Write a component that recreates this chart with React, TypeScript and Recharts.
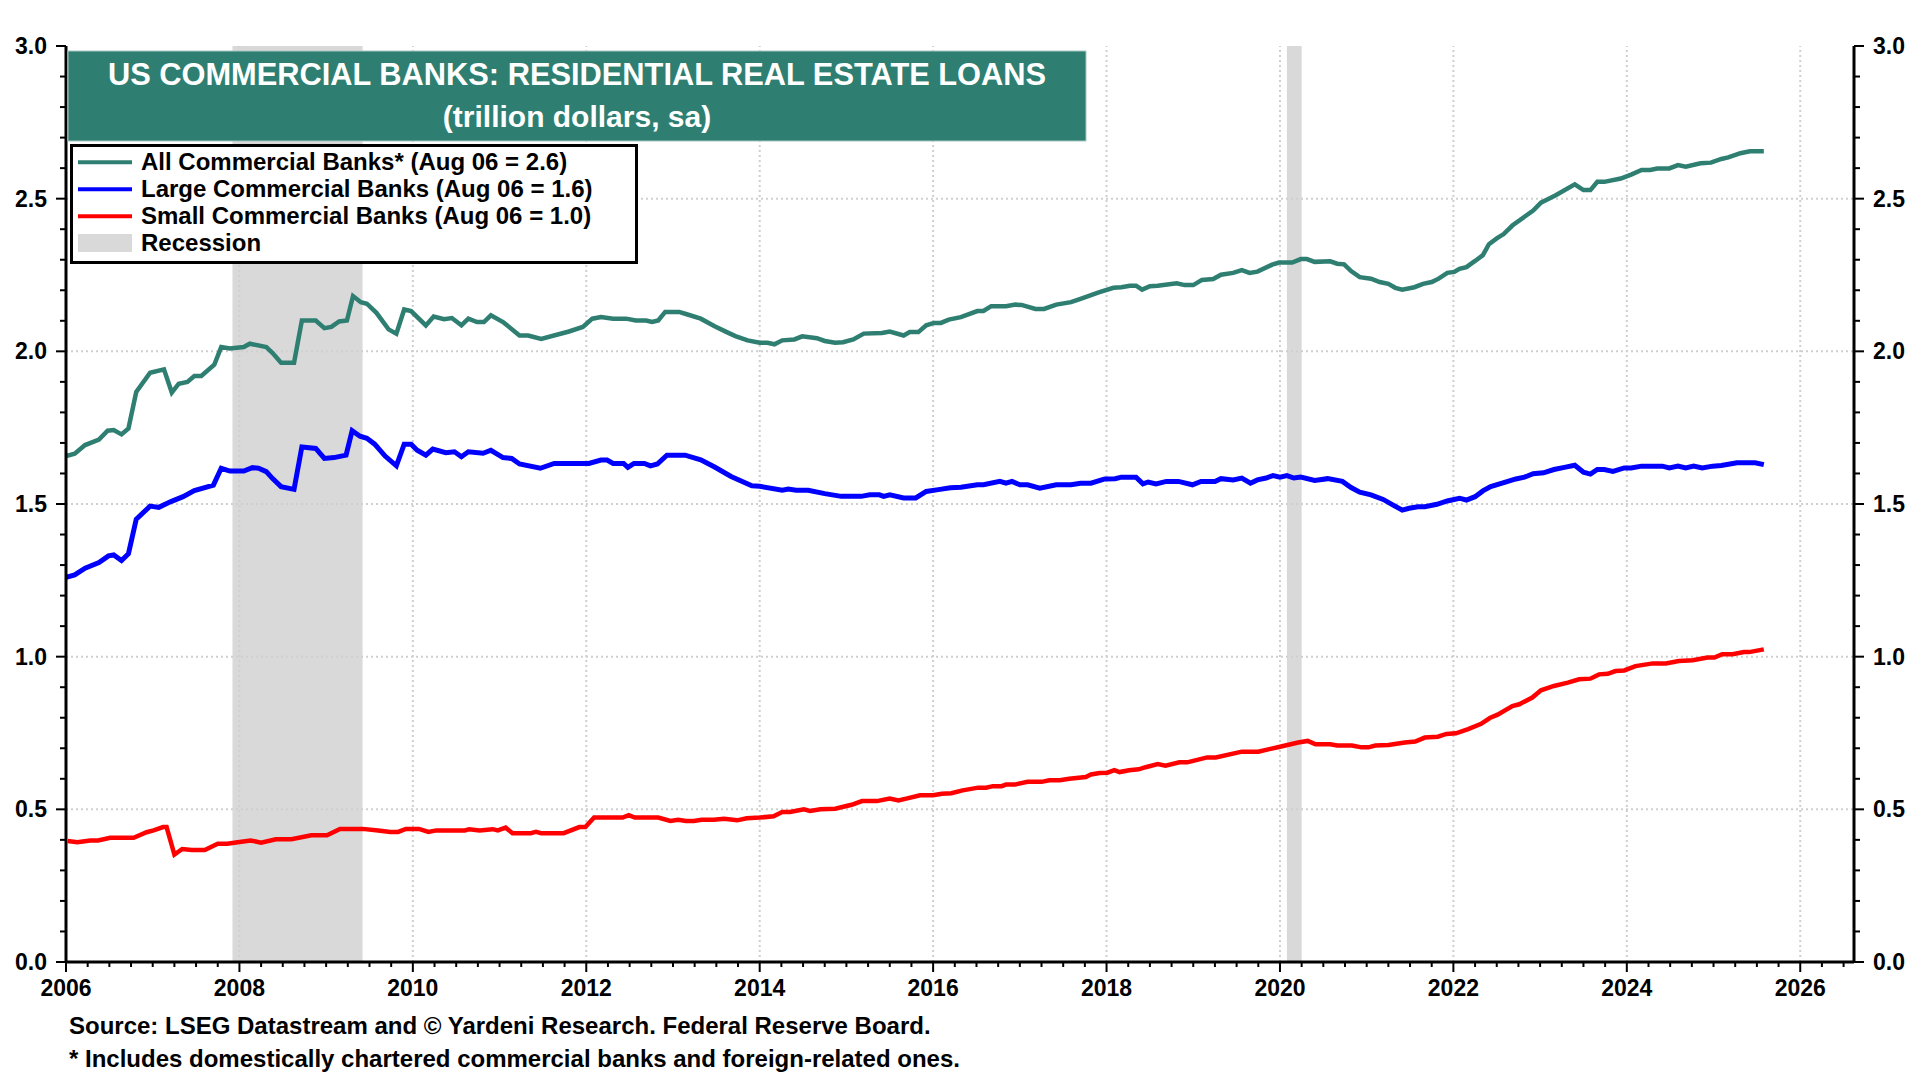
import React from "react";
import {
  ComposedChart,
  Line,
  XAxis,
  YAxis,
  ReferenceArea,
  ReferenceLine,
} from "recharts";

// values: [decimal year, trillion $]
const allBanks: [number, number][] = [
  [2006.0, 1.657], [2006.1, 1.665], [2006.22, 1.693], [2006.38, 1.711], [2006.48, 1.74],
  [2006.55, 1.742], [2006.64, 1.728], [2006.72, 1.747], [2006.81, 1.867], [2006.97, 1.93],
  [2007.13, 1.941], [2007.22, 1.865], [2007.3, 1.894], [2007.4, 1.9], [2007.48, 1.919],
  [2007.56, 1.919], [2007.71, 1.956], [2007.79, 2.014], [2007.89, 2.009], [2008.05, 2.014],
  [2008.12, 2.025], [2008.31, 2.014], [2008.38, 1.995], [2008.48, 1.963], [2008.63, 1.963],
  [2008.72, 2.101], [2008.88, 2.101], [2008.98, 2.076], [2009.06, 2.08], [2009.15, 2.098],
  [2009.24, 2.101], [2009.31, 2.181], [2009.4, 2.161], [2009.47, 2.156], [2009.58, 2.126],
  [2009.72, 2.072], [2009.81, 2.058], [2009.9, 2.137], [2009.98, 2.132], [2010.15, 2.085],
  [2010.24, 2.114], [2010.36, 2.105], [2010.45, 2.109], [2010.56, 2.085], [2010.64, 2.107],
  [2010.74, 2.096], [2010.82, 2.096], [2010.9, 2.118], [2011.04, 2.096], [2011.23, 2.052],
  [2011.33, 2.052], [2011.48, 2.041], [2011.8, 2.065], [2011.96, 2.08], [2012.07, 2.107],
  [2012.17, 2.112], [2012.31, 2.107], [2012.46, 2.107], [2012.57, 2.101], [2012.69, 2.101],
  [2012.76, 2.096], [2012.83, 2.101], [2012.91, 2.129], [2013.07, 2.129], [2013.14, 2.123],
  [2013.32, 2.107], [2013.48, 2.082], [2013.62, 2.063], [2013.72, 2.05], [2013.86, 2.036],
  [2014.0, 2.028], [2014.09, 2.028], [2014.17, 2.023], [2014.26, 2.036], [2014.4, 2.039],
  [2014.49, 2.049], [2014.66, 2.043], [2014.75, 2.034], [2014.87, 2.028], [2014.96, 2.03],
  [2015.08, 2.039], [2015.2, 2.058], [2015.41, 2.06], [2015.5, 2.065], [2015.66, 2.052],
  [2015.73, 2.063], [2015.83, 2.063], [2015.92, 2.085], [2016.01, 2.093], [2016.09, 2.093],
  [2016.18, 2.104], [2016.32, 2.112], [2016.51, 2.132], [2016.58, 2.132], [2016.67, 2.148],
  [2016.84, 2.148], [2016.95, 2.153], [2017.02, 2.152], [2017.18, 2.139], [2017.28, 2.139],
  [2017.42, 2.153], [2017.59, 2.161], [2017.7, 2.172], [2017.91, 2.193], [2018.08, 2.208],
  [2018.17, 2.21], [2018.27, 2.215], [2018.34, 2.215], [2018.41, 2.202], [2018.5, 2.213],
  [2018.59, 2.215], [2018.81, 2.223], [2018.9, 2.217], [2019.0, 2.217], [2019.1, 2.234],
  [2019.23, 2.237], [2019.32, 2.251], [2019.46, 2.257], [2019.56, 2.266], [2019.65, 2.257],
  [2019.74, 2.261], [2019.91, 2.284], [2019.99, 2.291], [2020.14, 2.291], [2020.24, 2.302],
  [2020.31, 2.302], [2020.4, 2.293], [2020.58, 2.295], [2020.66, 2.287], [2020.74, 2.285],
  [2020.82, 2.263], [2020.92, 2.243], [2021.05, 2.238], [2021.15, 2.227], [2021.25, 2.221],
  [2021.33, 2.208], [2021.41, 2.202], [2021.55, 2.21], [2021.65, 2.221], [2021.75, 2.227],
  [2021.83, 2.238], [2021.93, 2.257], [2022.01, 2.26], [2022.07, 2.27], [2022.15, 2.276],
  [2022.25, 2.296], [2022.34, 2.315], [2022.41, 2.351], [2022.5, 2.37], [2022.58, 2.384],
  [2022.68, 2.412], [2022.84, 2.445], [2022.92, 2.461], [2023.01, 2.487], [2023.06, 2.494],
  [2023.18, 2.511], [2023.4, 2.547], [2023.5, 2.528], [2023.58, 2.528], [2023.66, 2.555],
  [2023.74, 2.555], [2023.93, 2.566], [2024.05, 2.579], [2024.17, 2.594], [2024.27, 2.594],
  [2024.35, 2.599], [2024.49, 2.599], [2024.59, 2.61], [2024.68, 2.605], [2024.85, 2.616],
  [2024.97, 2.618], [2025.09, 2.63], [2025.17, 2.635], [2025.31, 2.649], [2025.42, 2.655],
  [2025.58, 2.655],
];

const largeBanks: [number, number][] = [
  [2006.0, 1.26], [2006.1, 1.268], [2006.22, 1.29], [2006.38, 1.308], [2006.49, 1.33],
  [2006.55, 1.333], [2006.64, 1.315], [2006.72, 1.337], [2006.81, 1.45], [2006.97, 1.493],
  [2007.07, 1.489], [2007.21, 1.508], [2007.35, 1.524], [2007.48, 1.544], [2007.7, 1.562],
  [2007.79, 1.617], [2007.89, 1.608], [2008.05, 1.608], [2008.15, 1.619], [2008.22, 1.617],
  [2008.31, 1.606], [2008.38, 1.584], [2008.48, 1.557], [2008.63, 1.548], [2008.72, 1.687],
  [2008.88, 1.682], [2008.98, 1.649], [2009.09, 1.652], [2009.23, 1.66], [2009.3, 1.74],
  [2009.39, 1.722], [2009.47, 1.715], [2009.56, 1.696], [2009.68, 1.657], [2009.81, 1.625],
  [2009.9, 1.696], [2009.98, 1.696], [2010.05, 1.676], [2010.15, 1.66], [2010.23, 1.68],
  [2010.38, 1.668], [2010.48, 1.671], [2010.56, 1.655], [2010.64, 1.671], [2010.81, 1.666],
  [2010.9, 1.676], [2011.04, 1.652], [2011.14, 1.649], [2011.23, 1.631], [2011.47, 1.617],
  [2011.63, 1.633], [2012.03, 1.633], [2012.17, 1.644], [2012.24, 1.644], [2012.31, 1.633],
  [2012.43, 1.633], [2012.48, 1.62], [2012.55, 1.633], [2012.67, 1.633], [2012.74, 1.625],
  [2012.82, 1.631], [2012.93, 1.66], [2013.14, 1.66], [2013.32, 1.645], [2013.48, 1.621],
  [2013.67, 1.59], [2013.91, 1.56], [2014.0, 1.558], [2014.26, 1.545], [2014.33, 1.549],
  [2014.42, 1.545], [2014.56, 1.545], [2014.75, 1.534], [2014.94, 1.525], [2015.17, 1.525],
  [2015.27, 1.53], [2015.38, 1.53], [2015.43, 1.525], [2015.5, 1.53], [2015.66, 1.52],
  [2015.8, 1.52], [2015.92, 1.541], [2016.06, 1.547], [2016.2, 1.553], [2016.32, 1.555],
  [2016.51, 1.563], [2016.58, 1.563], [2016.77, 1.574], [2016.84, 1.568], [2016.91, 1.574],
  [2017.0, 1.563], [2017.09, 1.563], [2017.23, 1.552], [2017.42, 1.563], [2017.59, 1.563],
  [2017.7, 1.568], [2017.82, 1.568], [2017.98, 1.582], [2018.1, 1.583], [2018.17, 1.588],
  [2018.34, 1.588], [2018.42, 1.566], [2018.48, 1.572], [2018.57, 1.566], [2018.69, 1.574],
  [2018.83, 1.574], [2018.99, 1.563], [2019.09, 1.574], [2019.25, 1.574], [2019.32, 1.583],
  [2019.46, 1.579], [2019.56, 1.585], [2019.66, 1.568], [2019.74, 1.579], [2019.84, 1.585],
  [2019.92, 1.593], [2020.0, 1.588], [2020.08, 1.593], [2020.16, 1.585], [2020.24, 1.588],
  [2020.4, 1.577], [2020.55, 1.583], [2020.72, 1.574], [2020.82, 1.554], [2020.92, 1.539],
  [2021.05, 1.53], [2021.19, 1.515], [2021.29, 1.499], [2021.41, 1.48], [2021.49, 1.486],
  [2021.59, 1.491], [2021.67, 1.491], [2021.81, 1.499], [2021.93, 1.51], [2022.07, 1.519],
  [2022.15, 1.513], [2022.25, 1.524], [2022.34, 1.543], [2022.43, 1.557], [2022.6, 1.572],
  [2022.72, 1.582], [2022.82, 1.588], [2022.92, 1.599], [2023.04, 1.602], [2023.16, 1.613],
  [2023.28, 1.62], [2023.4, 1.627], [2023.5, 1.604], [2023.58, 1.598], [2023.66, 1.613],
  [2023.74, 1.613], [2023.84, 1.607], [2023.97, 1.618], [2024.05, 1.618], [2024.17, 1.624],
  [2024.41, 1.624], [2024.49, 1.618], [2024.59, 1.624], [2024.68, 1.618], [2024.77, 1.624],
  [2024.87, 1.618], [2024.99, 1.624], [2025.09, 1.626], [2025.27, 1.635], [2025.48, 1.635],
  [2025.58, 1.629],
];

const smallBanks: [number, number][] = [
  [2006.02, 0.396], [2006.13, 0.392], [2006.28, 0.398], [2006.37, 0.398], [2006.51, 0.407],
  [2006.78, 0.407], [2006.93, 0.425], [2007.01, 0.431], [2007.12, 0.442], [2007.16, 0.442],
  [2007.25, 0.352], [2007.34, 0.37], [2007.45, 0.367], [2007.6, 0.367], [2007.75, 0.387],
  [2007.86, 0.387], [2007.98, 0.392], [2008.13, 0.398], [2008.25, 0.391], [2008.42, 0.402],
  [2008.6, 0.402], [2008.83, 0.415], [2009.01, 0.415], [2009.16, 0.436], [2009.42, 0.436],
  [2009.6, 0.431], [2009.74, 0.426], [2009.83, 0.426], [2009.92, 0.436], [2010.07, 0.436],
  [2010.18, 0.426], [2010.27, 0.431], [2010.6, 0.431], [2010.65, 0.435], [2010.77, 0.431],
  [2010.92, 0.435], [2010.98, 0.431], [2011.07, 0.44], [2011.15, 0.422], [2011.36, 0.422],
  [2011.42, 0.426], [2011.48, 0.422], [2011.74, 0.422], [2011.92, 0.442], [2011.99, 0.442],
  [2012.09, 0.473], [2012.42, 0.473], [2012.49, 0.481], [2012.56, 0.473], [2012.83, 0.473],
  [2012.97, 0.462], [2013.06, 0.466], [2013.15, 0.462], [2013.24, 0.462], [2013.33, 0.466],
  [2013.47, 0.466], [2013.59, 0.469], [2013.74, 0.464], [2013.85, 0.471], [2014.0, 0.473],
  [2014.16, 0.477], [2014.26, 0.491], [2014.35, 0.491], [2014.51, 0.5], [2014.58, 0.495],
  [2014.7, 0.5], [2014.87, 0.502], [2015.06, 0.515], [2015.18, 0.527], [2015.35, 0.527],
  [2015.5, 0.535], [2015.6, 0.529], [2015.69, 0.535], [2015.85, 0.546], [2016.0, 0.546],
  [2016.1, 0.551], [2016.21, 0.553], [2016.34, 0.562], [2016.52, 0.571], [2016.61, 0.571],
  [2016.69, 0.576], [2016.79, 0.576], [2016.84, 0.581], [2016.94, 0.581], [2017.09, 0.59],
  [2017.25, 0.59], [2017.34, 0.595], [2017.46, 0.595], [2017.57, 0.6], [2017.76, 0.606],
  [2017.82, 0.614], [2017.92, 0.619], [2018.01, 0.62], [2018.09, 0.628], [2018.15, 0.622],
  [2018.26, 0.628], [2018.37, 0.631], [2018.45, 0.638], [2018.59, 0.648], [2018.68, 0.643],
  [2018.84, 0.654], [2018.93, 0.654], [2019.16, 0.67], [2019.26, 0.67], [2019.56, 0.689],
  [2019.75, 0.689], [2020.0, 0.705], [2020.21, 0.719], [2020.32, 0.724], [2020.41, 0.713],
  [2020.58, 0.713], [2020.66, 0.709], [2020.83, 0.709], [2020.94, 0.703], [2021.02, 0.703],
  [2021.1, 0.709], [2021.25, 0.711], [2021.44, 0.719], [2021.56, 0.722], [2021.67, 0.735],
  [2021.82, 0.738], [2021.92, 0.747], [2022.03, 0.749], [2022.17, 0.763], [2022.32, 0.78],
  [2022.42, 0.799], [2022.51, 0.81], [2022.68, 0.838], [2022.76, 0.844], [2022.91, 0.866],
  [2023.01, 0.89], [2023.16, 0.904], [2023.32, 0.915], [2023.45, 0.926], [2023.58, 0.928],
  [2023.68, 0.942], [2023.78, 0.944], [2023.87, 0.953], [2023.97, 0.955], [2024.1, 0.969],
  [2024.3, 0.978], [2024.45, 0.978], [2024.6, 0.986], [2024.76, 0.988], [2024.93, 0.997],
  [2025.01, 0.997], [2025.1, 1.008], [2025.22, 1.008], [2025.35, 1.015], [2025.41, 1.015],
  [2025.58, 1.024],
];

// recessions (decimal years)
const recessions: [number, number][] = [
  [2007.92, 2009.42],
  [2020.08, 2020.25],
];

const yearLabels = [2006, 2008, 2010, 2012, 2014, 2016, 2018, 2020, 2022, 2024, 2026];
const valueLabels = [0, 0.5, 1.0, 1.5, 2.0, 2.5, 3.0];

const legendItems = [
  { label: "All Commercial Banks* (Aug 06 = 2.6)", color: "#2E7F71" },
  { label: "Large Commercial Banks (Aug 06 = 1.6)", color: "#0000FF" },
  { label: "Small Commercial Banks (Aug 06 = 1.0)", color: "#FF0000" },
];

const X_MIN = 2006;
const X_MAX = 2026.62;
const FONT = "'Liberation Sans', Arial, Helvetica, sans-serif";
const GRID = "#CFCFCF";

const quarterTicks: number[] = [];
for (let i = 0; X_MIN + i * 0.25 <= X_MAX; i++) quarterTicks.push(X_MIN + i * 0.25);
const tenthTicks: number[] = [];
for (let i = 0; i <= 30; i++) tenthTicks.push(Math.round(i) / 10);

const toRows = (pts: [number, number][]) => pts.map(([x, v]) => ({ x, v }));

const isMajorYear = (v: number) => yearLabels.some((y) => Math.abs(y - v) < 1e-6);
const isMajorValue = (v: number) => valueLabels.some((y) => Math.abs(y - v) < 1e-6);

function XTick(props: any) {
  const { x, y, payload } = props;
  const major = isMajorYear(payload.value);
  return (
    <g>
      <line x1={x} x2={x} y1={y} y2={y + (major ? 10 : 5)} stroke="#000" strokeWidth={2} />
      {major && (
        <text x={x} y={y + 34} textAnchor="middle" fontFamily={FONT} fontWeight="bold" fontSize={23} fill="#000">
          {payload.value}
        </text>
      )}
    </g>
  );
}

function YTick(props: any) {
  const { x, y, payload, side } = props;
  const major = isMajorValue(payload.value);
  const dir = side === "left" ? -1 : 1;
  const len = major ? 10 : 6;
  return (
    <g>
      <line x1={x} x2={x + dir * len} y1={y} y2={y} stroke="#000" strokeWidth={2} />
      {major && (
        <text
          x={x + dir * 19}
          y={y + 8}
          textAnchor={side === "left" ? "end" : "start"}
          fontFamily={FONT}
          fontWeight="bold"
          fontSize={23}
          fill="#000"
        >
          {Number(payload.value).toFixed(1)}
        </text>
      )}
    </g>
  );
}

export default function App() {
  const axisLine = { stroke: "#000", strokeWidth: 3 };
  return (
    <div style={{ position: "absolute", left: 0, top: 0, width: 1920, height: 1080, background: "#fff" }}>
      <ComposedChart width={1920} height={1080} margin={{ top: 46, right: 0, bottom: 0, left: 0 }}>
        <XAxis
          xAxisId="b"
          dataKey="x"
          type="number"
          domain={[X_MIN, X_MAX]}
          ticks={quarterTicks}
          interval={0}
          allowDataOverflow
          height={118}
          tickSize={0}
          tickMargin={0}
          tickLine={false}
          axisLine={axisLine}
          tick={(p: any) => <XTick {...p} />}
        />
        <XAxis
          xAxisId="t"
          orientation="top"
          type="number"
          domain={[X_MIN, X_MAX]}
          allowDataOverflow
          height={0}
          tick={false}
          tickLine={false}
          axisLine={axisLine}
        />
        <YAxis
          yAxisId="l"
          type="number"
          domain={[0, 3]}
          ticks={tenthTicks}
          interval={0}
          allowDataOverflow
          width={66}
          tickSize={0}
          tickMargin={0}
          tickLine={false}
          axisLine={axisLine}
          tick={(p: any) => <YTick {...p} side="left" />}
        />
        <YAxis
          yAxisId="r"
          orientation="right"
          type="number"
          domain={[0, 3]}
          ticks={tenthTicks}
          interval={0}
          allowDataOverflow
          width={66}
          tickSize={0}
          tickMargin={0}
          tickLine={false}
          axisLine={axisLine}
          tick={(p: any) => <YTick {...p} side="right" />}
        />

        {recessions.map(([a, b]) => (
          <ReferenceArea
            key={a}
            xAxisId="b"
            yAxisId="l"
            x1={a}
            x2={b}
            y1={0}
            y2={3}
            fill="#D9D9D9"
            fillOpacity={1}
            stroke="none"
          />
        ))}
        {yearLabels.slice(1).map((yr) => (
          <ReferenceLine key={"v" + yr} xAxisId="b" yAxisId="l" x={yr} stroke={GRID} strokeWidth={2} strokeDasharray="2 3" />
        ))}
        {valueLabels.slice(1, -1).map((v) => (
          <ReferenceLine key={"h" + v} xAxisId="b" yAxisId="l" y={v} stroke={GRID} strokeWidth={2} strokeDasharray="2 3" />
        ))}

        <Line
          xAxisId="b"
          yAxisId="l"
          data={toRows(smallBanks)}
          dataKey="v"
          type="linear"
          stroke="#FF0000"
          strokeWidth={4.5}
          dot={false}
          isAnimationActive={false}
        />
        <Line
          xAxisId="b"
          yAxisId="l"
          data={toRows(largeBanks)}
          dataKey="v"
          type="linear"
          stroke="#0000FF"
          strokeWidth={5}
          dot={false}
          isAnimationActive={false}
        />
        <Line
          xAxisId="b"
          yAxisId="l"
          data={toRows(allBanks)}
          dataKey="v"
          type="linear"
          stroke="#2E7F71"
          strokeWidth={4.5}
          dot={false}
          isAnimationActive={false}
        />
      </ComposedChart>

      <svg
        width={1920}
        height={1080}
        style={{ position: "absolute", left: 0, top: 0, pointerEvents: "none" }}
        fontFamily={FONT}
        fontWeight="bold"
      >
        <rect x={68} y={51} width={1018} height={90} fill="#2E7F71" stroke="#A8C8C1" strokeWidth={1} />
        <text x={577} y={85} textAnchor="middle" fontSize={30.8} fill="#fff">
          US COMMERCIAL BANKS: RESIDENTIAL REAL ESTATE LOANS
        </text>
        <text x={577} y={127} textAnchor="middle" fontSize={30} fill="#fff">
          (trillion dollars, sa)
        </text>

        <rect x={71.5} y={145.5} width={565} height={117} fill="#fff" stroke="#000" strokeWidth={3} />
        {legendItems.map((it, i) => (
          <g key={it.label}>
            <line x1={78} x2={132} y1={162.3 + i * 27} y2={162.3 + i * 27} stroke={it.color} strokeWidth={4} />
            <text x={141} y={170 + i * 27} fontSize={24} fill="#000">
              {it.label}
            </text>
          </g>
        ))}
        <rect x={78} y={234} width={54} height={18} fill="#D9D9D9" />
        <text x={141} y={251} fontSize={24} fill="#000">
          Recession
        </text>

        <text x={69} y={1034} fontSize={24} fill="#000">
          Source: LSEG Datastream and © Yardeni Research. Federal Reserve Board.
        </text>
        <text x={69} y={1067} fontSize={24} fill="#000">
          * Includes domestically chartered commercial banks and foreign-related ones.
        </text>
      </svg>
    </div>
  );
}
